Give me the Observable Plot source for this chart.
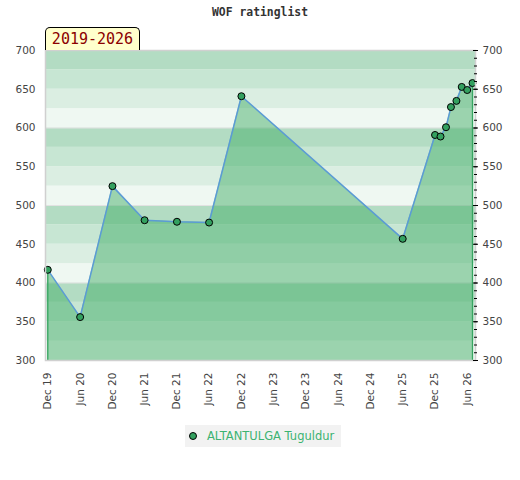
<!DOCTYPE html>
<html>
<head>
<meta charset="utf-8">
<script src="https://cdn.jsdelivr.net/npm/d3@7"></script>
<script src="https://cdn.jsdelivr.net/npm/@observablehq/plot@0.6"></script>
<style>
  html, body { margin: 0; padding: 0; background: #fff; }
  #wrap { position: relative; width: 520px; height: 480px; font-family: "DejaVu Sans", sans-serif; }
  #title { position: absolute; left: 0; top: 5px; width: 520px; text-align: center;
           font-family: "DejaVu Sans Mono", monospace; font-weight: bold; font-size: 11.4px; color: #333; }
  #badge { position: absolute; left: 45px; top: 27px; width: 95px; height: 23px; box-sizing: border-box;
           background: #ffffcc; border: 1px solid #000; border-bottom: none;
           border-top-left-radius: 5px; border-top-right-radius: 5px;
           font-family: "DejaVu Sans Mono", monospace; font-size: 15px; color: #8b0000;
           text-align: center; line-height: 22px; }
  #legend { position: absolute; left: 185px; top: 425px; width: 156px; height: 22px; background: #f2f2f2;
            display: flex; align-items: center; font-size: 11.5px; color: #3cb371; }
  #legend .dot { display: inline-block; width: 6px; height: 6px; border: 1px solid #000; border-radius: 50%;
                 background: #33a05f; margin-left: 4px; margin-right: 10px; }
  #chart { position: absolute; left: 0; top: 0; }
</style>
</head>
<body>
<div id="wrap">
  <div id="chart"></div>
  <div id="title">WOF ratinglist</div>
  <div id="badge">2019-2026</div>
  <div id="legend"><span class="dot"></span><span id="legendText"></span></div>
</div>
<script>
const title = "WOF ratinglist";
const period = "2019-2026";
const playerName = "ALTANTULGA Tuguldur";

const dates = ["2019-12-01", "2020-06-01", "2020-12-01", "2021-06-01", "2021-12-01", "2022-06-01",
  "2022-12-01", "2025-06-01", "2025-12-01", "2026-01-01", "2026-02-01", "2026-03-01",
  "2026-04-01", "2026-05-01", "2026-06-01", "2026-07-01"];
const ratings = [417, 356, 525, 481, 479, 478, 641, 457, 591, 589, 601, 627, 635, 653, 649, 658];

const xTicks = ["2019-12-01", "2020-06-01", "2020-12-01", "2021-06-01", "2021-12-01", "2022-06-01",
  "2022-12-01", "2023-06-01", "2023-12-01", "2024-06-01", "2024-12-01", "2025-06-01",
  "2025-12-01", "2026-06-01"];
const yLabels = [300, 350, 400, 450, 500, 550, 600, 650, 700];
const yMinor = d3.range(300, 701, 10);
const bandStarts = d3.range(300, 700, 25);
const bandShades = ["#eff8f2", "#dbeee2", "#c7e6d3", "#b3dcc3"];
const separators = [400, 500, 600];

document.getElementById("legendText").textContent = playerName;

const data = dates.map((d, i) => ({date: new Date(d), rating: ratings[i]}));
const bands = bandStarts.map(lo => ({lo, hi: lo + 25, shade: bandShades[(lo % 100) / 25]}));
const first = data[0], last = data[data.length - 1];

const chart = Plot.plot({
  width: 520,
  height: 420,
  marginLeft: 45,
  marginRight: 45,
  marginTop: 50,
  marginBottom: 60,
  style: {fontFamily: "DejaVu Sans, sans-serif", fontSize: "10.5px", color: "#444", background: "transparent"},
  x: {type: "utc", domain: [new Date("2019-11-18"), new Date("2026-07-18")]},
  y: {domain: [300, 700]},
  marks: [
    Plot.rect(bands, {y1: "lo", y2: "hi", fill: "shade"}),
    Plot.ruleY(separators, {stroke: "#e2e2e2", strokeWidth: 1}),
    Plot.areaY(data, {x: "date", y1: 300, y2: "rating", fill: "rgb(61,171,98)", fillOpacity: 0.475}),
    Plot.ruleX([first, last], {x: "date", y1: 300, y2: "rating", stroke: "#36a561", strokeWidth: 1.3}),
    Plot.lineY(data, {x: "date", y: "rating", stroke: "#5b9bd5", strokeWidth: 1.5}),
    Plot.dot(data, {x: "date", y: "rating", r: 3.5, fill: "#33a05f", stroke: "#000", strokeWidth: 1}),
    Plot.frame({stroke: "#d0d0d0", strokeWidth: 1.5}),
    Plot.axisY({anchor: "left", ticks: yLabels, tickSize: 0, tickPadding: 10, fill: "#444"}),
    Plot.axisY({anchor: "right", ticks: yLabels, tickSize: 0, tickPadding: 7, fill: "#444"}),
    Plot.axisY({anchor: "right", ticks: yMinor, tickSize: 3, dx: -2, fill: "none", stroke: "#000"}),
    Plot.axisY({anchor: "right", ticks: yLabels, tickSize: 5, dx: -3, fill: "none", stroke: "#000"}),
    Plot.axisX({anchor: "bottom", ticks: xTicks.map(d => new Date(d)), tickFormat: d3.utcFormat("%b %y"),
      tickRotate: -90, tickSize: 0, tickPadding: 12, fill: "#444"})
  ]
});
document.getElementById("chart").appendChild(chart);
</script>
</body>
</html>
